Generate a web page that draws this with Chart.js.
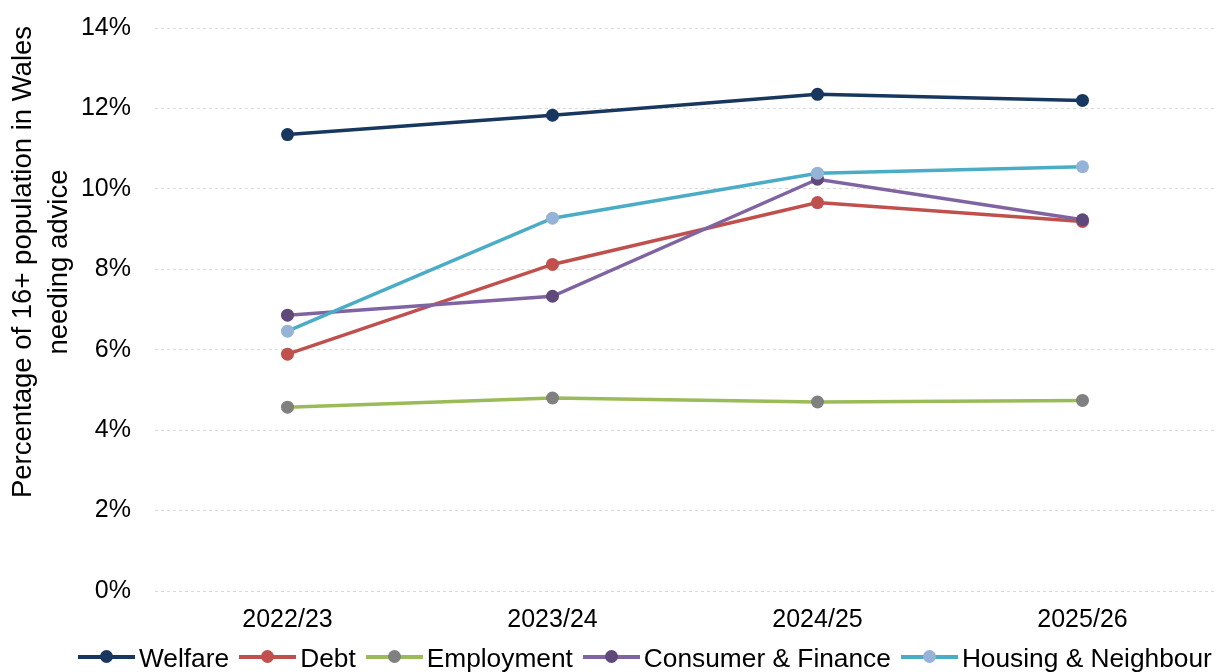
<!DOCTYPE html>
<html>
<head>
<meta charset="utf-8">
<script src="https://cdn.jsdelivr.net/npm/chart.js@4"></script>
<style>
  body { margin: 0; background: #fff; }
  #wrap { position: relative; width: 1222px; height: 672px; overflow: hidden; font-family: "Liberation Sans", Arial, sans-serif; }
  #legend { position: absolute; left: 78px; top: 643px; display: flex; white-space: nowrap; font-size: 26.3px; line-height: 30px; color: #000; }
  .item { display: flex; align-items: center; margin-right: 10px; }
  .swatch { position: relative; width: 57px; height: 30px; margin-right: 4px; }
  .swatch .ln { position: absolute; left: 0; right: 0; top: 12px; height: 3.5px; }
  .swatch .dot { position: absolute; left: 22px; top: 7px; width: 13px; height: 13px; border-radius: 50%; }
</style>
</head>
<body>
<div id="wrap">
  <canvas id="myChart" width="1222" height="672"></canvas>
  <div id="legend"></div>
</div>
<script>
let years = ["2022/23", "2023/24", "2024/25", "2025/26"];
let seriesNames = ["Welfare", "Debt", "Employment", "Consumer & Finance", "Housing & Neighbour"];
let welfare = [11.35, 11.83, 12.35, 12.2];
let debt = [5.89, 8.12, 9.66, 9.19];
let employment = [4.57, 4.8, 4.7, 4.74];
let consumer = [6.86, 7.33, 10.24, 9.23];
let housing = [6.46, 9.27, 10.39, 10.55];
let yTicks = [0, 2, 4, 6, 8, 10, 12, 14];
let lineColors = ["#17375E", "#C0504D", "#9BBB59", "#8064A2", "#4BACC6"];
let markerColors = ["#17375E", "#C0504D", "#808080", "#5F497A", "#95B3D7"];

let allValues = [welfare, debt, employment, consumer, housing];

let datasets = seriesNames.map((name, i) => ({
  label: name,
  data: allValues[i],
  borderColor: lineColors[i],
  backgroundColor: markerColors[i],
  pointBackgroundColor: markerColors[i],
  pointBorderColor: markerColors[i],
  pointRadius: 6.5,
  pointHoverRadius: 6.5,
  pointBorderWidth: 0,
  borderWidth: 3.5,
  tension: 0,
  order: seriesNames.length - i
}));

// y axis title, two lines, drawn to the left of the ticks
const axisTitle = {
  id: "axisTitle",
  afterDraw(chart) {
    let ctx = chart.ctx;
    ctx.save();
    ctx.translate(0, 262);
    ctx.rotate(-Math.PI / 2);
    ctx.font = "27.5px 'Liberation Sans', Arial, sans-serif";
    ctx.fillStyle = "#000";
    ctx.textAlign = "center";
    ctx.textBaseline = "middle";
    ctx.fillText("Percentage of 16+ population in Wales", 0, 23);
    ctx.fillText("needing advice", 0, 59);
    ctx.restore();
  }
};

const config = {
  type: "line",
  data: { labels: years, datasets: datasets },
  options: {
    responsive: false,
    animation: false,
    layout: { padding: { top: 28, right: 7, left: 0, bottom: 0 } },
    plugins: { legend: { display: false }, tooltip: { enabled: false } },
    scales: {
      x: {
        offset: true,
        grid: { display: false, drawTicks: false },
        border: { display: false },
        ticks: { color: "#000", padding: 14, font: { family: "'Liberation Sans', Arial", size: 25 } },
        afterFit(scale) { scale.height = 81; }
      },
      y: {
        min: 0,
        max: 14,
        afterBuildTicks(scale) { scale.ticks = yTicks.map(v => ({ value: v })); },
        grid: { color: "#D9D9D9", lineWidth: 1, drawTicks: false },
        border: { display: false, dash: [3, 3] },
        ticks: {
          color: "#000",
          padding: 24,
          font: { family: "'Liberation Sans', Arial", size: 25 },
          callback: (v) => v + "%"
        },
        afterFit(scale) {
          scale.width = 155;
          scale.paddingTop = 0;
          scale.paddingBottom = 0;
        }
      }
    }
  },
  plugins: [axisTitle]
};

let myChart = new Chart(document.getElementById("myChart"), config);
console.log("chartArea", JSON.stringify(myChart.chartArea));

// legend built from the same arrays
let legend = document.getElementById("legend");
seriesNames.forEach((name, i) => {
  let item = document.createElement("div");
  item.className = "item";
  item.innerHTML =
    '<span class="swatch"><span class="ln" style="background:' + lineColors[i] + '"></span>' +
    '<span class="dot" style="background:' + markerColors[i] + '"></span></span>' +
    "<span>" + name + "</span>";
  legend.appendChild(item);
});
</script>
</body>
</html>
